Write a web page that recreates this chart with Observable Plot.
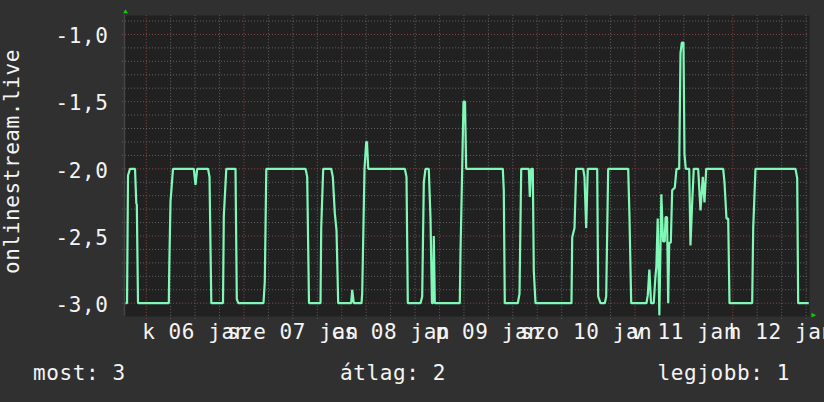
<!DOCTYPE html>
<html><head><meta charset="utf-8">
<script src="https://cdn.jsdelivr.net/npm/d3@7"></script>
<script src="https://cdn.jsdelivr.net/npm/@observablehq/plot@0.6"></script>
<style>
html,body{margin:0;padding:0;background:#303030;}
#chart{width:824px;height:402px;overflow:hidden;}
svg{display:block;}
svg text{letter-spacing:0.6px;}
</style></head><body><div id="chart"></div>
<script>
// hours since 06 jan 00:00
const hours = [-5.08, -4.71, -4.47, -3.98, -2.75, -2.43, -2.31, -2.01, 5.55, 5.67, 5.97, 6.58, 11.68, 12.10, 12.52, 15.17, 15.54, 15.98, 18.85, 19.05, 19.66, 21.92, 22.24, 22.61, 28.79, 29.11, 29.48, 39.11, 39.52, 39.96, 42.79, 42.96, 43.45, 45.41, 45.81, 46.30, 46.72, 47.13, 50.32, 50.57, 50.96, 52.85, 53.02, 53.59, 54.01, 54.20, 54.50, 63.48, 63.90, 64.22, 67.34, 67.75, 68.15, 68.56, 69.37, 69.79, 70.15, 70.40, 70.60, 70.85, 76.98, 77.15, 77.57, 77.89, 78.26, 78.55, 87.54, 87.78, 88.03, 91.22, 91.64, 92.06, 93.92, 94.17, 94.51, 94.90, 95.15, 95.57, 104.40, 104.58, 105.14, 105.56, 107.27, 107.59, 108.01, 108.40, 110.71, 110.96, 111.52, 112.58, 112.92, 113.41, 118.32, 118.64, 119.06, 122.81, 123.13, 123.52, 123.93, 124.59, 124.99, 125.23, 125.57, 125.97, 126.46, 126.88, 127.29, 127.49, 127.86, 128.14, 128.39, 128.78, 129.12, 129.76, 130.18, 130.84, 131.16, 131.48, 131.89, 132.14, 132.46, 133.30, 133.61, 134.03, 134.42, 135.50, 136.07, 136.63, 137.05, 137.47, 141.64, 141.96, 142.45, 142.87, 143.19, 148.76, 149.01, 149.57, 159.39, 159.81, 160.05, 162.65];
const values = [-3.0, -3.0, -2.05, -2.0, -2.0, -2.26, -2.26, -3.0, -3.0, -2.71, -2.24, -2.0, -2.0, -2.12, -2.0, -2.0, -2.06, -3.0, -3.0, -2.35, -2.0, -2.0, -2.97, -3.0, -3.0, -2.84, -2.0, -2.0, -2.06, -3.0, -3.0, -2.44, -2.0, -2.0, -2.06, -2.33, -2.46, -3.0, -3.0, -2.90, -3.0, -3.0, -2.93, -2.0, -1.80, -1.80, -2.0, -2.0, -2.06, -3.0, -3.0, -2.95, -2.10, -2.0, -2.0, -2.37, -3.0, -3.0, -2.50, -3.0, -3.0, -2.63, -2.0, -1.50, -1.50, -2.0, -2.0, -2.16, -3.0, -3.0, -2.93, -2.0, -2.0, -2.21, -2.0, -2.0, -2.76, -3.0, -3.0, -2.51, -2.44, -2.0, -2.0, -2.06, -2.44, -2.0, -2.0, -2.95, -3.0, -3.0, -2.95, -2.0, -2.0, -2.36, -3.0, -3.0, -2.94, -2.75, -3.0, -3.0, -2.81, -2.73, -2.37, -3.09, -2.19, -2.54, -2.54, -2.36, -2.36, -3.0, -2.55, -2.55, -2.16, -2.14, -2.0, -2.0, -1.14, -1.06, -1.06, -1.89, -2.0, -2.0, -2.57, -2.25, -2.0, -2.0, -2.31, -2.06, -2.25, -2.0, -2.0, -2.10, -2.37, -2.37, -3.0, -3.0, -2.44, -2.0, -2.0, -2.07, -3.0, -3.0];

const yMajorTicks = [-3.0, -2.5, -2.0, -1.5, -1.0];
const yMinorTicks = [-2.9, -2.8, -2.7, -2.6, -2.4, -2.3, -2.2, -2.1, -1.9, -1.8, -1.7, -1.6, -1.4, -1.3, -1.2, -1.1, -0.9];
const xMajorTicks = [0, 24, 48, 72, 96, 120, 144];
const xMinorTicks = [6, 12, 18, 30, 36, 42, 54, 60, 66, 78, 84, 90, 102, 108, 114, 126, 132, 138, 150, 156, 162];
const xLabelHours = [12, 36, 60, 84, 108, 132, 156];
const xLabels = ["k 06 jan", "sze 07 jan", "cs 08 jan", "p 09 jan", "szo 10 jan", "v 11 jan", "h 12 jan"];
const yTitle = "onlinestream.live";
const legendNames = ["most", "átlag", "legjobb"];
const legendValues = [3, 2, 1];

const data = hours.map((h, i) => ({h, v: values[i]}));
const textColor = "#f4f4f4";
const font = "'DejaVu Sans Mono', monospace";

const triUp = {draw(ctx) { ctx.moveTo(0, -2.3); ctx.lineTo(2.4, 1.8); ctx.lineTo(-2.4, 1.8); ctx.closePath(); }};
const triRight = {draw(ctx) { ctx.moveTo(2.7, 0); ctx.lineTo(-2, -2.4); ctx.lineTo(-2, 2.4); ctx.closePath(); }};

const chart = Plot.plot({
  width: 824, height: 350,
  marginLeft: 124, marginRight: 15, marginTop: 15, marginBottom: 34,
  style: {background: "#303030", color: textColor, fontFamily: font, fontSize: "21px", overflow: "visible"},
  x: {domain: [-5.33, 162.83]},
  y: {domain: [-3.099, -0.859]},
  marks: [
    Plot.frame({fill: "#212121", stroke: null}),
    Plot.ruleY(yMinorTicks, {x1: -5.8, x2: 162.83, stroke: "#646464", strokeDasharray: "1,2"}),
    Plot.ruleX(xMinorTicks, {y1: -3.12, y2: -0.859, stroke: "#646464", strokeDasharray: "1,2"}),
    Plot.ruleY(yMajorTicks, {x1: -5.8, x2: 162.83, stroke: "#924646", strokeDasharray: "1,2"}),
    Plot.ruleX(xMajorTicks, {y1: -3.12, y2: -0.859, stroke: "#924646", strokeDasharray: "1,2"}),
    Plot.ruleX([-5.33], {stroke: "#454545", strokeWidth: 1.5}),
    Plot.line(data, {x: "h", y: "v", stroke: "#80f8b8", strokeWidth: 2.2, strokeLinejoin: "miter", strokeLinecap: "butt"}),
    Plot.axisY(yMajorTicks, {tickSize: 0, tickPadding: 16, dy: 2, tickFormat: d => d.toFixed(1).replace(".", ","), label: null, fill: textColor}),
    Plot.axisX(xLabelHours, {tickSize: 0, tickPadding: 8, tickFormat: d => xLabels[xLabelHours.indexOf(d)], label: null, fill: textColor}),
    Plot.text([yTitle], {text: d => d, frameAnchor: "left", textAnchor: "middle", rotate: -90, dx: -112, dy: -4.5, fill: textColor, fontSize: 21}),
    Plot.dot([null], {frameAnchor: "top-left", symbol: triUp, fill: "#00d400", stroke: null, dx: 1, dy: -4}),
    Plot.dot([null], {frameAnchor: "bottom-right", symbol: triRight, fill: "#00d400", stroke: null, dx: 4, dy: -1.3})
  ]
});
document.getElementById("chart").append(chart);

// legend below the plot
const leg = d3.create("svg").attr("width", 824).attr("height", 52)
  .style("font-family", font).style("font-size", "21px");
const legX = [33, 393, 790];
const legAnchor = ["start", "middle", "end"];
leg.selectAll("text").data(legendNames).join("text")
  .attr("x", (d, i) => legX[i]).attr("y", 30)
  .attr("text-anchor", (d, i) => legAnchor[i])
  .attr("fill", textColor)
  .text((d, i) => `${d}: ${legendValues[i]}`);
document.getElementById("chart").append(leg.node());
</script></body></html>
